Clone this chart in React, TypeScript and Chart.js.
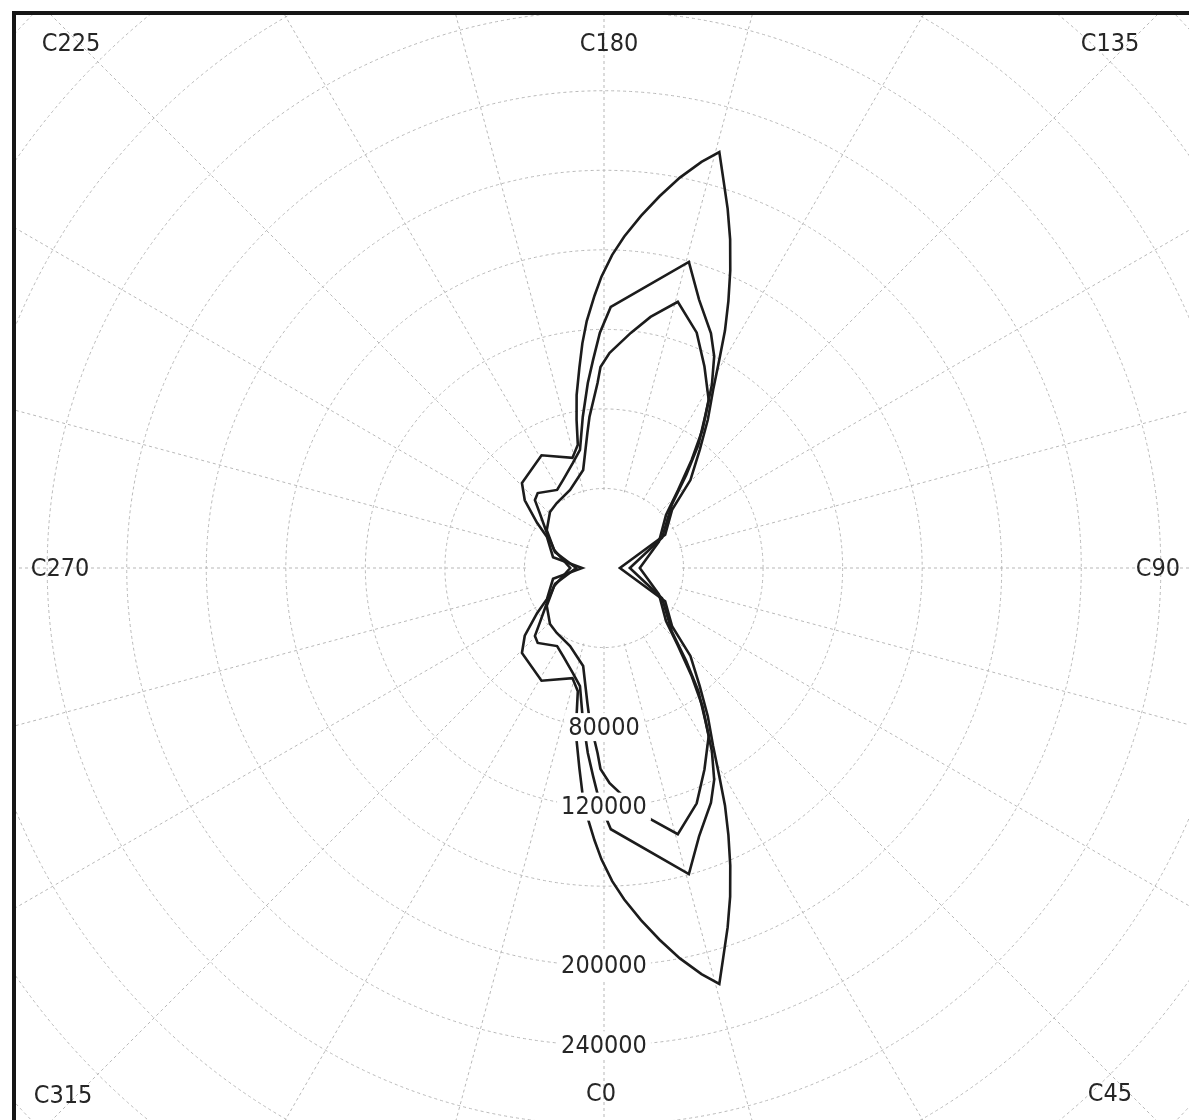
import React, { useEffect, useRef } from 'react';
import { Chart, registerables } from 'chart.js';

Chart.register(...registerables);

// ---- categories: one label per half degree, index 0 at the top (C180), clockwise ----
const STEPS_PER_DEG = 2;
const cPlaneLabels: number[] = Array.from({ length: 360 * STEPS_PER_DEG }, (_, i) => (540 - i / STEPS_PER_DEG) % 360);

// ---- radial ticks ----
const tickStep = 40000;
const scaleMax = 440000;
const shownTickLabels = [80000, 120000, 200000, 240000];
const blankInnerValue = 40000;

// ---- C-plane captions ----
const captionNames = ['C180', 'C135', 'C90', 'C45', 'C0', 'C315', 'C270', 'C225'];

// ---- series (C angle in degrees, intensity in thousands) ----
const outerAngles = [1.5, 3.5, 6, 8.5, 11, 13.5, 15.5, 17, 19, 21, 23, 25, 27, 29, 31.5, 35, 39, 44.5, 49.5, 61.5, 90, 118.5, 130.5, 135.5, 141, 145, 148.5, 151, 153, 155, 157, 159, 161, 163, 164.5, 166.5, 169, 171.5, 174, 176.5, 178.5, 180.5, 182, 184, 185.5, 187, 189, 190.5, 192, 196, 209, 224, 229.5, 236, 241.5, 258, 270, 282, 298.5, 304, 310.5, 316, 331, 344, 348, 349.5, 351, 353, 354.5, 356, 358, 359.5];
const outerValues = [157.5, 167, 178, 189, 200, 210, 217, 205, 191, 177, 162.5, 148, 134, 119.5, 105, 91, 76.5, 62, 45, 35, 8, 35, 45, 62, 76.5, 91, 105, 119.5, 134, 148, 162.5, 177, 191, 205, 217, 210, 200, 189, 178, 167, 157.5, 146.5, 137, 124.5, 113.5, 101.5, 88, 75.7, 63.3, 57.6, 64.8, 59.4, 52.4, 40.6, 32.6, 26.2, 11, 26.2, 32.6, 40.6, 52.4, 59.4, 64.8, 57.6, 63.3, 75.7, 88, 101.5, 113.5, 124.5, 137, 146.5];

const middleAngles = [1.5, 15.5, 19.5, 24.5, 27.5, 30.5, 33.5, 37.5, 41.5, 47, 62.5, 90, 117.5, 133, 138.5, 142.5, 146.5, 149.5, 152.5, 155.5, 160.5, 164.5, 178.5, 181, 183, 185, 188, 191.5, 196.5, 205, 211, 221.5, 225.5, 229.5, 238.5, 252, 270, 288, 301.5, 310.5, 314.5, 318.5, 329, 335, 343.5, 348.5, 352, 355, 357, 359];
const middleValues = [131.4, 159.7, 143.2, 129.7, 120, 106.9, 92.5, 77.9, 62.4, 46.6, 32.9, 13, 32.9, 46.6, 62.4, 77.9, 92.5, 106.9, 120, 129.7, 143.2, 159.7, 131.4, 118.3, 104.8, 93.4, 76.7, 60.6, 55.1, 48.8, 45.8, 50.3, 48.7, 42.5, 33.7, 25.9, 14, 25.9, 33.7, 42.5, 48.7, 50.3, 45.8, 48.8, 55.1, 60.6, 76.7, 93.4, 104.8, 118.3];

const innerAngles = [1.5, 6.5, 10.5, 15.5, 21.5, 26.5, 32, 35.5, 39, 43.5, 49.5, 64.5, 90, 115.5, 130.5, 136.5, 141, 144.5, 148, 153.5, 158.5, 164.5, 169.5, 173.5, 178.5, 181, 182, 185.5, 187, 192, 203.5, 216, 224, 236.5, 250, 270, 290, 303.5, 316, 324, 336.5, 348, 353, 354.5, 358, 359];
const innerValues = [108.2, 119, 128.4, 138.9, 127.2, 113.2, 99.4, 85.2, 70.1, 54.1, 41, 30.6, 18, 30.6, 41, 54.1, 70.1, 85.2, 99.4, 113.2, 127.2, 138.9, 128.4, 119, 108.2, 101.1, 93.1, 76.3, 68.5, 50.4, 42.8, 40.4, 39.1, 34.5, 26.7, 17, 26.7, 34.5, 39.1, 40.4, 42.8, 50.4, 68.5, 76.3, 93.1, 101.1];

function toSeries(angles: number[], values: number[]): (number | null)[] {
  const arr: (number | null)[] = cPlaneLabels.map(() => null);
  angles.forEach((c, k) => {
    const idx = Math.round((((180 - c) % 360) + 360) % 360 * STEPS_PER_DEG);
    arr[idx] = values[k] * 1000;
  });
  return arr;
}

const FONT = "'DejaVu Sans Condensed', 'DejaVu Sans', sans-serif";
const GRID = '#b8b8b8';
const LINE = '#1c1c1c';
const TEXT = '#262626';

// caption offsets from the pole (layout only)
const captionOffsets: Record<string, [number, number]> = {
  C180: [5, -525],
  C135: [506, -525],
  C90: [554, 0],
  C45: [506, 525],
  C0: [-3, 525],
  C315: [-541, 527],
  C270: [-544, 0],
  C225: [-533, -525],
};

const polarDecor = {
  id: 'polarDecor',
  beforeDatasetsDraw(chart: any) {
    const s = chart.scales.r;
    const ctx = chart.ctx as CanvasRenderingContext2D;
    const rad = s.getDistanceFromCenterForValue(blankInnerValue) - 1.5;
    ctx.save();
    ctx.fillStyle = '#ffffff';
    ctx.beginPath();
    ctx.arc(s.xCenter, s.yCenter, rad, 0, Math.PI * 2);
    ctx.fill();
    ctx.restore();
  },
  afterDatasetsDraw(chart: any) {
    const s = chart.scales.r;
    const ctx = chart.ctx as CanvasRenderingContext2D;
    ctx.save();
    ctx.font = `25px ${FONT}`;
    ctx.textAlign = 'center';
    ctx.textBaseline = 'middle';
    shownTickLabels.forEach((v) => {
      const d = s.getDistanceFromCenterForValue(v);
      const txt = String(v);
      const w = ctx.measureText(txt).width;
      ctx.fillStyle = '#ffffff';
      ctx.fillRect(s.xCenter - w / 2 - 4, s.yCenter + d - 14, w + 8, 28);
      ctx.fillStyle = TEXT;
      ctx.fillText(txt, s.xCenter, s.yCenter + d + 1);
    });
    captionNames.forEach((name) => {
      const [dx, dy] = captionOffsets[name];
      ctx.fillStyle = TEXT;
      ctx.fillText(name, s.xCenter + dx, s.yCenter + dy + 1);
    });
    ctx.restore();
  },
};

export default function App() {
  const ref = useRef<HTMLCanvasElement>(null);
  useEffect(() => {
    if (!ref.current) return;
    const mk = (data: (number | null)[]) => ({
      data,
      borderColor: LINE,
      backgroundColor: 'rgba(0,0,0,0)',
      borderWidth: 2.6,
      borderJoinStyle: 'miter' as const,
      fill: false,
      spanGaps: true,
      pointRadius: 0,
      pointHoverRadius: 0,
      tension: 0,
    });
    const every = 15 * STEPS_PER_DEG;
    const chart = new Chart(ref.current, {
      type: 'radar',
      data: {
        labels: cPlaneLabels.map((c) => 'C' + c),
        datasets: [
          mk(toSeries(outerAngles, outerValues)),
          mk(toSeries(middleAngles, middleValues)),
          mk(toSeries(innerAngles, innerValues)),
        ],
      },
      options: {
        responsive: false,
        animation: false,
        devicePixelRatio: 1,
        layout: { padding: 0 },
        plugins: { legend: { display: false }, tooltip: { enabled: false } },
        scales: {
          r: {
            min: 0,
            max: scaleMax,
            startAngle: 0,
            ticks: { display: false, stepSize: tickStep },
            pointLabels: { display: false },
            grid: { circular: true, color: GRID, lineWidth: 1 },
            border: { dash: [3, 3] },
            angleLines: {
              display: true,
              color: (ctx: any) => (ctx.index % every === 0 ? GRID : 'rgba(0,0,0,0)'),
              lineWidth: (ctx: any) => (ctx.index % every === 0 ? 1 : 0),
              borderDash: [3, 3],
            },
          },
        },
      },
      plugins: [polarDecor],
    });
    return () => chart.destroy();
  }, []);

  return (
    <div style={{ position: 'absolute', left: 0, top: 0, width: 1189, height: 1120, overflow: 'hidden', background: '#fff' }}>
      <div
        style={{
          position: 'absolute',
          left: 12,
          top: 11,
          width: 1300,
          height: 1300,
          borderTop: '4px solid #161616',
          borderLeft: '4px solid #161616',
          overflow: 'hidden',
          background: '#fff',
        }}
      >
        <canvas
          ref={ref}
          width={1750}
          height={1750}
          style={{ position: 'absolute', left: -287, top: -322, width: 1750, height: 1750 }}
        />
      </div>
    </div>
  );
}
